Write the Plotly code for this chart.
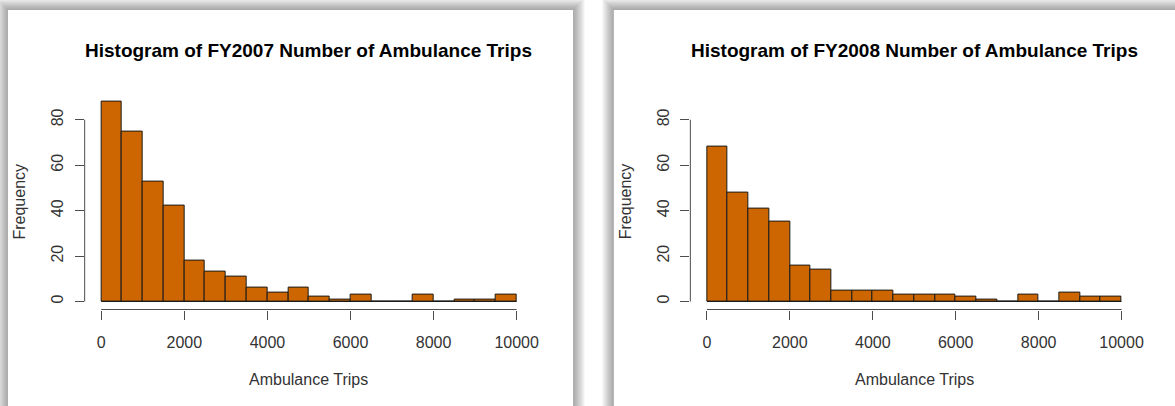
import plotly.graph_objects as go

# ---- data ----
bin_edges = list(range(0, 10001, 500))
counts_2007 = [88, 75, 53, 42, 18, 13, 11, 6, 4, 6, 2, 1, 3, 0, 0, 3, 0, 1, 1, 3]
counts_2008 = [68, 48, 41, 35, 16, 14, 5, 5, 5, 3, 3, 3, 2, 1, 0, 3, 0, 4, 2, 2]
titles = ["Histogram of FY2007 Number of Ambulance Trips",
          "Histogram of FY2008 Number of Ambulance Trips"]
x_ticks = [0, 2000, 4000, 6000, 8000, 10000]
y_ticks = [0, 20, 40, 60, 80]
x_label = "Ambulance Trips"
y_label = "Frequency"

W, H = 1175, 406
BAR_COLOR = "#CD6600"
AXIS_COLOR = "#4d4d4d"
TEXT_COLOR = "#333333"
FONT = "Liberation Sans, Arial"

def px(x):
    return x / W

def py(y):
    return 1 - y / H

centers = [(a + b) / 2 for a, b in zip(bin_edges[:-1], bin_edges[1:])]
widths = [b - a for a, b in zip(bin_edges[:-1], bin_edges[1:])]

# plot regions in pixels (left, right), shared top/bottom
regions = [(85.1, 536.0), (693.9, 1144.0)]
plot_top, plot_bottom = 93.6, 309.5
ymax = max(counts_2007)
yrange = [-0.04 * ymax, ymax * 1.04]
xrange_ = [bin_edges[0] - 0.04 * (bin_edges[-1] - bin_edges[0]),
           bin_edges[-1] + 0.04 * (bin_edges[-1] - bin_edges[0])]

fig = go.Figure()
shapes = []
annotations = []

# panels with drop shadows
panels = [(8, 10, 576, 420), (617, 10, 1185, 420)]
for (x0, y0, x1, y1) in panels:
    for i in range(12, 0, -1):
        shapes.append(dict(type="rect", xref="paper", yref="paper",
                           x0=px(x0 - i), x1=px(x1 + i), y0=py(y1 + i), y1=py(y0 - i),
                           fillcolor="rgba(0,0,0,0.03)", line=dict(width=0), layer="below"))
    shapes.append(dict(type="rect", xref="paper", yref="paper",
                       x0=px(x0), x1=px(x1), y0=py(y1), y1=py(y0),
                       fillcolor="white", line=dict(width=0), layer="below"))

series = [counts_2007, counts_2008]
for k, (counts, title, (l, r)) in enumerate(zip(series, titles, regions)):
    xa = "x" if k == 0 else f"x{k+1}"
    ya = "y" if k == 0 else f"y{k+1}"
    fig.add_trace(go.Bar(x=centers, y=counts, width=widths, xaxis=xa, yaxis=ya,
                         marker=dict(color=BAR_COLOR, line=dict(color="#1a1a1a", width=1)),
                         showlegend=False, hoverinfo="x+y"))
    axkey = "" if k == 0 else str(k + 1)
    fig.update_layout(**{
        f"xaxis{axkey}": dict(domain=[px(l), px(r)], range=xrange_, anchor=ya,
                              tickvals=x_ticks, ticktext=[str(t) for t in x_ticks],
                              ticks="outside", ticklen=9, tickcolor=AXIS_COLOR,
                              showgrid=False, zeroline=False, showline=False,
                              tickfont=dict(family=FONT, size=16, color=TEXT_COLOR),
                              ticklabelstandoff=9, fixedrange=True),
        f"yaxis{axkey}": dict(domain=[py(plot_bottom), py(plot_top)], range=yrange, anchor=xa,
                              tickvals=y_ticks, ticktext=[str(t) for t in y_ticks],
                              ticks="outside", ticklen=9, tickcolor=AXIS_COLOR, tickangle=-90,
                              showgrid=False, zeroline=False, showline=False,
                              tickfont=dict(family=FONT, size=16, color=TEXT_COLOR),
                              ticklabelstandoff=5, fixedrange=True),
    })
    # R-style axis lines spanning only the tick range
    shapes.append(dict(type="line", xref=xa, yref=f"{ya} domain",
                       x0=x_ticks[0], x1=x_ticks[-1], y0=0, y1=0,
                       line=dict(color=AXIS_COLOR, width=1)))
    shapes.append(dict(type="line", xref=f"{xa} domain", yref=ya,
                       x0=0, x1=0, y0=y_ticks[0], y1=y_ticks[-1],
                       line=dict(color=AXIS_COLOR, width=1)))
    # baseline for empty bins (R draws zero-height rectangles as lines)
    shapes.append(dict(type="line", xref=xa, yref=ya,
                       x0=bin_edges[0], x1=bin_edges[-1], y0=0, y1=0,
                       line=dict(color="#1a1a1a", width=1)))
    cx = px((l + r) / 2)
    annotations.append(dict(text=f"<b>{title}</b>", xref="paper", yref="paper",
                            x=cx, y=py(50.5), showarrow=False, xanchor="center", yanchor="middle",
                            font=dict(family=FONT, size=19, color="black")))
    annotations.append(dict(text=x_label, xref="paper", yref="paper",
                            x=cx, y=py(379), showarrow=False, xanchor="center", yanchor="middle",
                            font=dict(family=FONT, size=16, color=TEXT_COLOR)))
    annotations.append(dict(text=y_label, xref="paper", yref="paper",
                            x=px(l - 65), y=py((plot_top + plot_bottom) / 2), textangle=-90,
                            showarrow=False, xanchor="center", yanchor="middle",
                            font=dict(family=FONT, size=16, color=TEXT_COLOR)))

fig.update_layout(width=W, height=H, margin=dict(l=0, r=0, t=0, b=0),
                  paper_bgcolor="white", plot_bgcolor="rgba(0,0,0,0)",
                  bargap=0, shapes=shapes, annotations=annotations)

fig.write_html("out.html",
               config={"displayModeBar": False, "responsive": False},
               post_script=("document.documentElement.style.margin='0';"
                            "document.documentElement.style.overflow='hidden';"
                            "document.body.style.margin='0';"
                            "document.body.style.overflow='hidden';"))
